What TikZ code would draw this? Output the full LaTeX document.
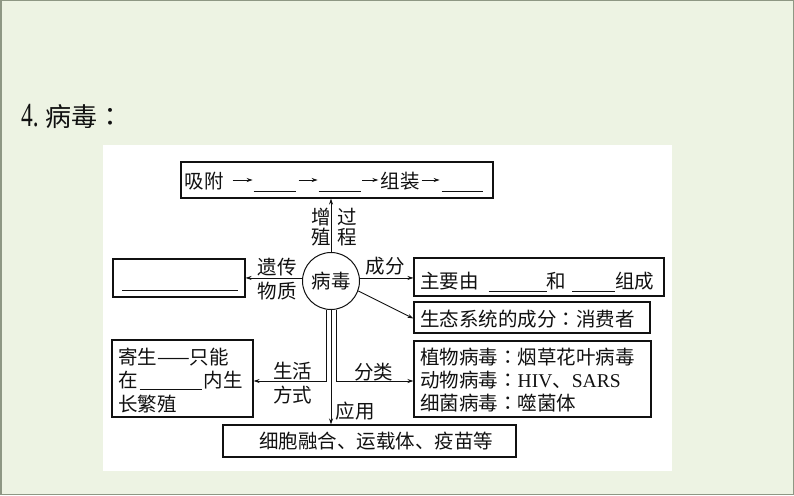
\documentclass[tikz,border=0pt]{standalone}
\usepackage{fontspec}
\setmainfont{Noto Sans CJK SC}
\newfontfamily\lat{Liberation Serif}
\newfontfamily\jp{Noto Sans CJK JP}
\usetikzlibrary{arrows.meta,calc}
\definecolor{bgc}{HTML}{EDF3E3}
\definecolor{frc}{HTML}{8E9784}
\definecolor{ink}{HTML}{111111}
\newcommand{\blank}[1]{\rule[-3pt]{#1pt}{0.8pt}}
\newcommand{\cc}{{\jp ：}}
\begin{document}
\begin{tikzpicture}[x=1pt,y=-1pt,
  box/.style={draw=ink, line width=1.1pt, inner sep=0pt, fill=white},
  txt/.style={inner sep=0pt, font=\fontsize{19.5}{23.5}\selectfont, text=ink},
  vir/.style={circle, draw=ink, line width=1pt, minimum size=57pt, inner sep=0pt, font=\fontsize{19.5}{23.5}\selectfont, text=ink},
  link/.style={draw=ink, line width=0.9pt, -{Stealth[length=6pt,width=4pt]}},
  uline/.style={draw=ink, line width=0.8pt}]
\useasboundingbox (0,0) rectangle (794,495);
\fill[bgc] (0,0) rectangle (794,495);
\draw[frc, line width=1.5pt] (0.75,0.75) rectangle (793.25,494.25);
\fill[white] (103,145) rectangle (672,471);
\node[txt, anchor=base west, font=\fontsize{26}{30}\selectfont] (title) at (21,126) {\scalebox{0.9}[1.3]{\lat 4.}\hspace{7pt}病毒\cc};
% boxes
\node[box, minimum width=312pt, minimum height=36pt] (top) at (337,180) {};
\node[box, minimum width=132pt, minimum height=38pt] (gen) at (179,278) {};
\node[box, minimum width=250pt, minimum height=38pt] (comp) at (539,277) {};
\node[box, minimum width=236pt, minimum height=31pt] (eco) at (532,317.5) {};
\node[box, minimum width=237pt, minimum height=76pt] (cls) at (532.5,379) {};
\node[box, minimum width=141pt, minimum height=77pt] (para) at (182.5,378.5) {};
\node[box, minimum width=293pt, minimum height=32pt] (app) at (369.5,441) {};
\node[vir] (virus) at (331,281) {病毒};
% top box contents
\node[txt] (t1) at (204,181) {吸附};
\node[txt] (t2) at (400,181) {组装};
\draw[link] ([xshift=9pt,yshift=1pt]t1.east) -- ++(20,0);
\draw[uline] ([xshift=30pt,yshift=-10pt]t1.east) -- ++(42,0);
\draw[link] ([xshift=75pt,yshift=1pt]t1.east) -- ++(19,0);
\draw[uline] ([xshift=95pt,yshift=-10pt]t1.east) -- ++(42,0);
\draw[link] ([xshift=-18pt,yshift=1pt]t2.west) -- ++(16,0);
\draw[link] ([xshift=2pt,yshift=1pt]t2.east) -- ++(18,0);
\draw[uline] ([xshift=22pt,yshift=-10pt]t2.east) -- ++(41,0);
% other box contents
\draw[uline] ([xshift=10pt,yshift=-12pt]gen.west) -- ([xshift=-8pt,yshift=-12pt]gen.east);
\node[txt, anchor=west] (tcomp) at (420,282) {主要由\hspace{10pt}\blank{58}和\hspace{6pt}\blank{43}组成};
\node[txt, anchor=west] (teco) at (420,319) {生态系统的成分\cc 消费者};
\node[txt, anchor=west, align=left, font=\fontsize{19.5}{23}\selectfont] (tcls) at (420,380) {植物病毒\cc 烟草花叶病毒\\动物病毒\cc{\lat HIV}、{\lat SARS}\\细菌病毒\cc 噬菌体};
\node[txt, anchor=west, align=left, font=\fontsize{19.5}{23.5}\selectfont] (tpara) at (118,380.5) {寄生——只能\\在\hspace{2pt}\rule[-2pt]{62pt}{0.8pt}\hspace{2pt}内生\\长繁殖};
\node[txt] (tapp) at (376,441) {细胞融合、运载体、疫苗等};
% connectors
\draw[link] (virus.north) -- (virus.north |- top.south);
\draw[link] (virus.174) -- (virus.174 -| gen.east);
\draw[link] (virus.6) -- (virus.6 -| comp.west);
\draw[link] (virus.-20) -- ([yshift=-1pt]eco.west);
\draw[link] (virus.-100) |- ([yshift=-2.5pt]para.east);
\draw[link] (virus.-90) -- (virus.-90 |- app.north);
\draw[link] (virus.-80) |- ([yshift=-2pt]cls.west);
% labels
\node[txt, align=center, font=\fontsize{19.5}{20}\selectfont] (lzz) at (321,227) {增\\殖};
\node[txt, align=center, font=\fontsize{19.5}{20}\selectfont] (lgc) at (347,227) {过\\程};
\node[txt, align=center, font=\fontsize{19.5}{24.5}\selectfont] (lyc) at (277,279) {遗传\\物质};
\node[txt] (lcf) at (385,266.5) {成分};
\node[txt, align=center, font=\fontsize{19.5}{24}\selectfont] (lsh) at (292.5,383.5) {生活\\方式};
\node[txt] (lfl) at (373.5,372) {分类};
\node[txt] (lyy) at (355,411) {应用};
\end{tikzpicture}
\end{document}
